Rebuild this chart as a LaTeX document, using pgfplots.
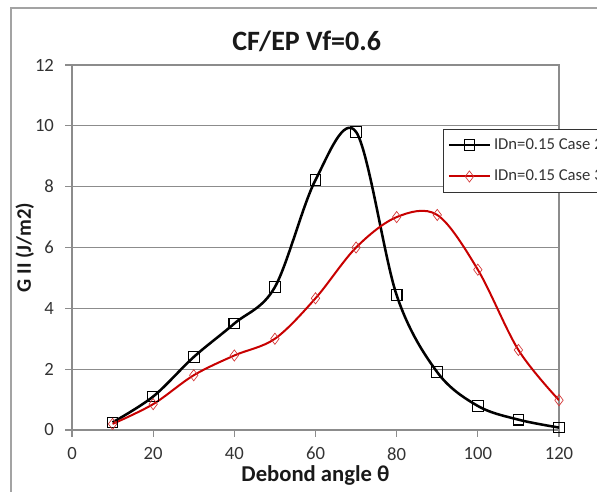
\documentclass[border=0pt]{standalone}
\usepackage{fontspec}
\setmainfont{Carlito}
\usepackage{pgfplots}
\pgfplotsset{compat=1.18}
\definecolor{gridgray}{RGB}{140,140,140}
\definecolor{exred}{RGB}{200,0,0}
\begin{document}
\begin{tikzpicture}
\useasboundingbox (0,0) rectangle (447.75pt,369pt);
\draw[gridgray!80, line width=0.8pt] (8.25pt,0pt) -- (8.25pt,363pt) -- (447.75pt,363pt);
\node[font=\fontsize{21}{24}\selectfont\bfseries, text=black!90] at (230pt,338.25pt) {CF/EP Vf=0.6};
\begin{axis}[
  at={(54pt,46.5pt)}, anchor=south west,
  scale only axis, width=365.25pt, height=273.75pt,
  axis lines=box,
  xmin=0, xmax=120, ymin=0, ymax=12,
  xtick={0,20,...,120}, ytick={0,2,...,12},
  xtick pos=left, ytick pos=left,
  tick align=outside, major tick length=5pt,
  ymajorgrids, grid style={gridgray, line width=0.8pt},
  axis line style={gridgray, line width=0.8pt},
  tick style={gridgray, line width=0.8pt},
  ticklabel style={font=\fontsize{14}{16}\selectfont, text=black!80},
  /pgf/number format/assume math mode=true,
  xticklabel style={yshift=-4.5pt},
  yticklabel style={xshift=-5pt},
  xlabel={Debond angle θ},
  ylabel={G II (J/m2)},
  xlabel style={font=\fontsize{17}{19}\selectfont\bfseries, text=black!90, yshift=3pt},
  ylabel style={font=\fontsize{15.5}{18}\selectfont\bfseries, text=black!90, yshift=-6pt},
  legend style={at={(0.762,0.825)}, anchor=north west, draw=black!80, line width=0.6pt,
    font=\fontsize{12.5}{14}\selectfont, text=black!80, row sep=10pt, inner xsep=3pt, inner ysep=5pt,
    fill=white},
  legend cell align=left,
  legend image code/.code={\draw[mark repeat=2,mark phase=2,#1] plot coordinates {(0pt,0pt) (15.5pt,0pt) (31pt,0pt)};},
]
\draw[gridgray, line width=0.8pt] (rel axis cs:1,0) -- (rel axis cs:1,1);
\addplot[black, line width=1.9pt, smooth, tension=0.55, mark=square, mark size=4pt,
  mark options={line width=0.8pt, black, solid}] coordinates {
(10,0.25) (20,1.1) (30,2.4) (40,3.5) (50,4.7) (60,8.22) (70,9.8) (80,4.43) (90,1.9) (100,0.79) (110,0.34) (120,0.08)
};
\addlegendentry{IDn=0.15 Case 2}
\addplot[exred, line width=1.5pt, smooth, tension=0.55, mark=diamond, mark size=4.2pt,
  mark options={line width=0.5pt, exred!80, solid}] coordinates {
(10,0.2) (20,0.85) (30,1.8) (40,2.45) (50,3.0) (60,4.33) (70,6.0) (80,7.0) (90,7.07) (100,5.27) (110,2.63) (120,0.98)
};
\addlegendentry{IDn=0.15 Case 3}
\end{axis}
\end{tikzpicture}
\end{document}
